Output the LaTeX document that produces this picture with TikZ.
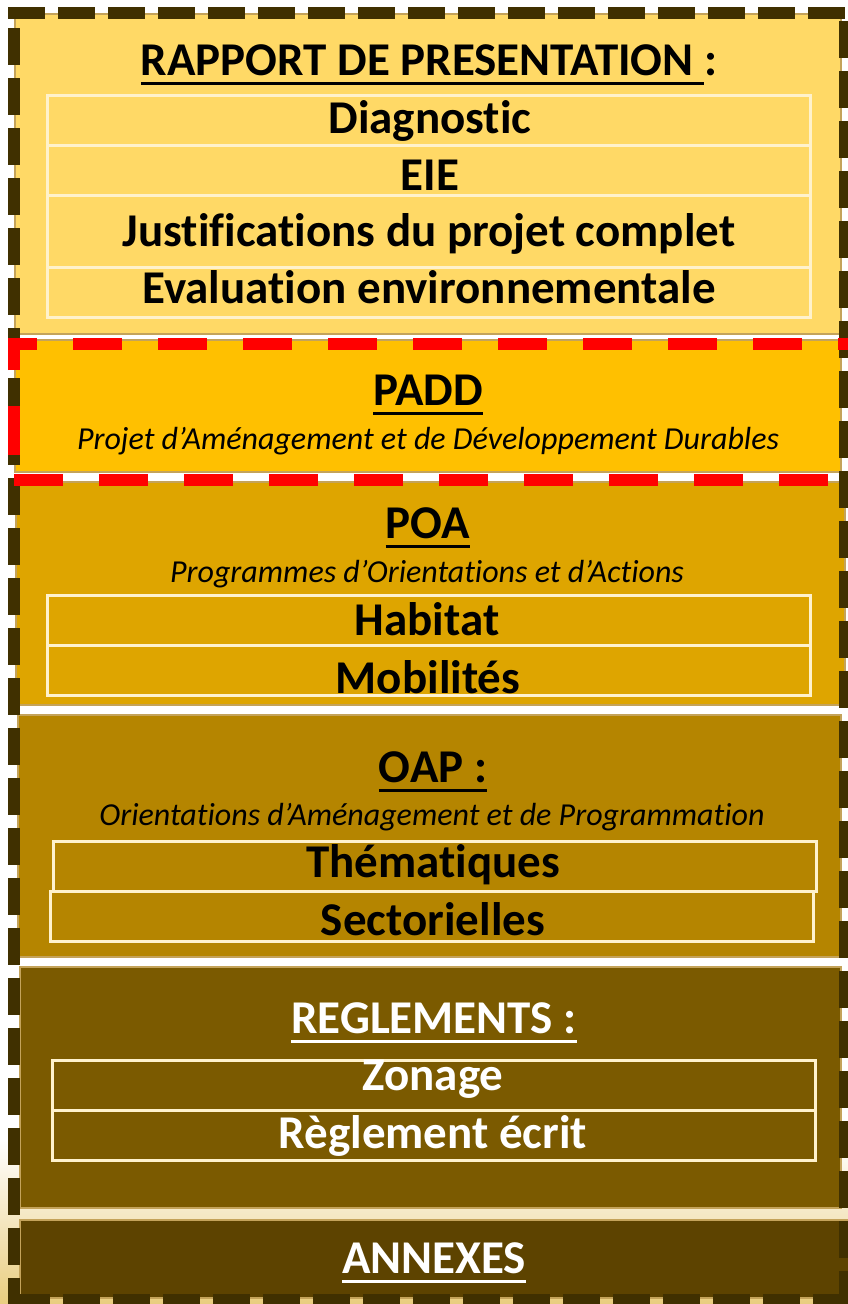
\documentclass[tikz,border=0pt]{standalone}
\usepackage{fontspec}
\setmainfont{Carlito}[Ligatures=NoCommon]
\usetikzlibrary{positioning}

\definecolor{jaune}{HTML}{FFD966}
\definecolor{orange}{HTML}{FFC000}
\definecolor{ocre}{HTML}{DEA500}
\definecolor{moutarde}{HTML}{B58500}
\definecolor{bronze}{HTML}{7B5A00}
\definecolor{brunfonce}{HTML}{5D4300}
\definecolor{brun}{HTML}{403000}
\definecolor{creme}{HTML}{FFF2CC}
\definecolor{bord}{HTML}{C4A35A}
\definecolor{sable}{HTML}{E9CD7F}

% soulignement epais sous un titre
\newcommand\souligne[1]{\setbox0\hbox{#1}\rlap{\copy0}\rule[-0.22em]{\wd0}{0.065em}}

\begin{document}
\begin{tikzpicture}[x=1pt, y=-1pt,
    bloc/.style={fill=#1, draw=bord, line width=1.5pt},
    ligne/.style={draw=creme, line width=3pt},
    titre/.style={anchor=base, font=\fontsize{47}{52}\selectfont\bfseries},
    sous/.style={anchor=base, font=\fontsize{32}{36}\selectfont\itshape},
    cadre/.style={draw=brun, line width=12pt, dash pattern=on 37pt off 13pt},
    rouge/.style={draw=red, line width=12pt, dash pattern=on 49pt off 36pt}]
    \useasboundingbox (0,0) rectangle (848,1304);
    \clip (0,0) rectangle (848,1304);
    \shade[top color=white, bottom color=sable] (0,1140) rectangle (848,1304);

    % rapport de presentation
    \draw[bloc=jaune] (15,14) rectangle (841,334);
    \node[titre] (rapport) at (429,75) {\souligne{RAPPORT DE PRESENTATION }:};
    \draw[ligne] (47,95) rectangle (810,145);
    \draw[ligne] (47,145) rectangle (810,195);
    \draw[ligne] (47,195) rectangle (810,267);
    \draw[ligne] (47,267) rectangle (810,317);
    \node[titre] (diag) at (430,133) {Diagnostic};
    \node[titre] (eie) at (430,190) {EIE};
    \node[titre] (justif) at (429,246) {Justifications du projet complet};
    \node[titre] (evalenv) at (429,303) {Evaluation environnementale};

    % padd
    \draw[bloc=orange] (15,340) rectangle (841,472);
    \node[titre] (padd) at (428,405) {\souligne{PADD}};
    \node[sous] (paddtxt) at (428,449) {Projet d’Aménagement et de Développement Durables};

    % poa
    \draw[bloc=ocre] (16,482) rectangle (845,705);
    \node[titre] (poa) at (428,538) {\souligne{POA}};
    \node[sous] (poatxt) at (427,582) {Programmes d’Orientations et d’Actions};
    \draw[ligne] (47,595) rectangle (810,645);
    \draw[ligne] (47,645) rectangle (810,695);
    \node[titre] (habitat) at (427,635) {Habitat};
    \node[titre] (mobil) at (428,693) {Mobilités};

    % oap
    \draw[bloc=moutarde] (18,715) rectangle (841,957);
    \node[titre] (oap) at (433,782) {\souligne{OAP :}};
    \node[sous] (oaptxt) at (432,825) {Orientations d’Aménagement et de Programmation};
    \draw[ligne] (53,841) rectangle (816,891);
    \draw[ligne] (50,891) rectangle (813,941);
    \node[titre] (them) at (433,877) {Thématiques};
    \node[titre] (sect) at (433,935) {Sectorielles};

    % reglements
    \draw[bloc=bronze] (20,967) rectangle (841,1208);
    \node[titre, white] (regl) at (434,1033) {\souligne{REGLEMENTS :}};
    \draw[ligne] (52,1060) rectangle (815,1110);
    \draw[ligne] (52,1110) rectangle (815,1160);
    \node[titre, white] (zonage) at (433,1090) {Zonage};
    \node[titre, white] (reglecrit) at (433,1148) {Règlement écrit};

    % annexes
    \draw[bloc=brunfonce] (20,1220) rectangle (850,1298);
    \node[titre, white] (annexes) at (434,1273) {\souligne{ANNEXES}};

    % cadres en tirets
    \draw[cadre] (8,13) -- (848,13);
    \draw[cadre] (14,28) -- (14,1304);
    \draw[cadre] (845,21) -- (845,1304);
    \draw[cadre] (13,1300) -- (848,1300);
    \draw[rouge] (14,455) -- (14,344) -- (856,344);
    \draw[rouge] (14,480) -- (856,480);
\end{tikzpicture}
\end{document}
